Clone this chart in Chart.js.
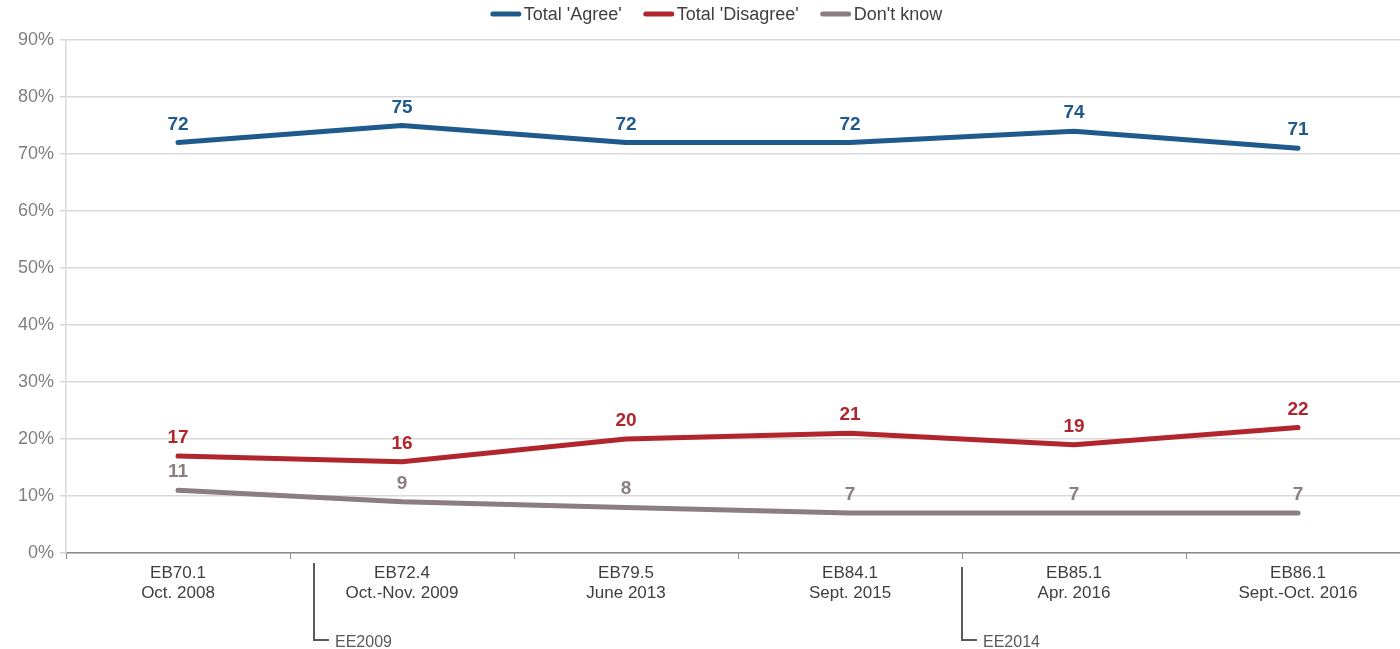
<!DOCTYPE html>
<html>
<head>
<meta charset="utf-8">
<script src="https://cdn.jsdelivr.net/npm/chart.js@4/dist/chart.umd.min.js"></script>
<style>
  html, body { margin: 0; padding: 0; background: #fff; overflow: hidden; }
  #wrap { width: 1410px; height: 649px; position: relative; }
</style>
</head>
<body>
<div id="wrap"><canvas id="chart"></canvas></div>
<script>
// ── data ───────────────────────────────────────────
const waves     = [['EB70.1', 'Oct. 2008'], ['EB72.4', 'Oct.-Nov. 2009'], ['EB79.5', 'June 2013'],
                   ['EB84.1', 'Sept. 2015'], ['EB85.1', 'Apr. 2016'], ['EB86.1', 'Sept.-Oct. 2016']];
const agree     = [72, 75, 72, 72, 74, 71];
const disagree  = [17, 16, 20, 21, 19, 22];
const dontKnow  = [11, 9, 8, 7, 7, 7];
const seriesNames = ["Total 'Agree'", "Total 'Disagree'", "Don't know"];
const seriesColors = ['#1f5a8c', '#b0262c', '#8b7d82'];
const labelColors  = ['#1f5a8c', '#b0262c', '#8b8080'];
const electionLabels = ['EE2009', 'EE2014'];
const electionPos    = [0.605, 3.5];   // position along the category axis

const FONT = '"Liberation Sans", Arial, sans-serif';

// ── plugins ────────────────────────────────────────
const valueLabels = {
  id: 'valueLabels',
  afterDatasetsDraw(chart) {
    const ctx = chart.ctx;
    ctx.save();
    ctx.font = 'bold 19px ' + FONT;
    ctx.textAlign = 'center';
    ctx.textBaseline = 'alphabetic';
    chart.data.datasets.forEach((ds, i) => {
      chart.getDatasetMeta(i).data.forEach((pt, j) => {
        ctx.fillStyle = labelColors[i];
        ctx.fillText(ds.data[j], pt.x, pt.y - 13);
      });
    });
    ctx.restore();
  }
};

// legend drawn by hand: round-capped line + text, centred on the window
const legendLine = {
  id: 'legendLine',
  afterDraw(chart) {
    const ctx = chart.ctx;
    ctx.save();
    ctx.font = '18px ' + FONT;
    ctx.textBaseline = 'middle';
    const lineW = 32, gap = 2, spacing = 21;
    const widths = seriesNames.map(n => lineW + gap + ctx.measureText(n).width);
    const total = widths.reduce((a, b) => a + b, 0) + spacing * (widths.length - 1);
    let x = 486 + (460 - total) / 2;
    const y = 14;
    seriesNames.forEach((n, i) => {
      ctx.strokeStyle = seriesColors[i];
      ctx.lineWidth = 5;
      ctx.lineCap = 'round';
      ctx.beginPath();
      ctx.moveTo(x + 3, y);
      ctx.lineTo(x + lineW - 3, y);
      ctx.stroke();
      ctx.fillStyle = '#404040';
      ctx.textAlign = 'left';
      ctx.fillText(n, x + lineW + gap, y + 1);
      x += widths[i] + spacing;
    });
    ctx.restore();
  }
};

const elections = {
  id: 'elections',
  afterDraw(chart) {
    const ctx = chart.ctx;
    const xs = chart.scales.x;
    ctx.save();
    ctx.strokeStyle = '#595959';
    ctx.lineWidth = 2;
    ctx.font = '16px ' + FONT;
    ctx.fillStyle = '#595959';
    ctx.textBaseline = 'alphabetic';
    electionLabels.forEach((lab, i) => {
      const x = Math.round(xs.getPixelForValue(electionPos[i]));
      const top = i === 0 ? 563 : 567;
      ctx.beginPath();
      ctx.moveTo(x, top);
      ctx.lineTo(x, 640);
      ctx.lineTo(x + 15, 640);
      ctx.stroke();
      ctx.fillText(lab, x + 21, 647);
    });
    ctx.restore();
  }
};

// ── chart ──────────────────────────────────────────
const mkSet = (i, data) => ({
  label: seriesNames[i],
  data: data,
  borderColor: seriesColors[i],
  backgroundColor: seriesColors[i],
  borderWidth: 5,
  pointRadius: 0,
  tension: 0,
  borderCapStyle: 'round',
  borderJoinStyle: 'round',
});

new Chart(document.getElementById('chart'), {
  type: 'line',
  data: {
    labels: waves,
    datasets: [mkSet(0, agree), mkSet(1, disagree), mkSet(2, dontKnow)],
  },
  options: {
    responsive: true,
    maintainAspectRatio: false,
    animation: false,
    layout: { padding: { top: 40, right: 0, left: 0, bottom: 0 } },
    plugins: {
      legend: { display: false },
      tooltip: { enabled: false },
    },
    scales: {
      x: {
        offset: true,
        grid: { display: true, drawOnChartArea: false, drawTicks: true, tickLength: 6, offset: true, color: '#8c8c8c' },
        border: { color: '#8c8c8c', width: 1.5 },
        ticks: { color: '#404040', font: { family: FONT, size: 17, lineHeight: 1.2 }, padding: 4, maxRotation: 0, autoSkip: false },
        afterFit(scale) { scale.height = 96; },
      },
      y: {
        min: 0,
        max: 90,
        grid: { color: '#d9d9d9', lineWidth: 1.5, tickLength: 6 },
        border: { color: '#d9d9d9', width: 1.5 },
        ticks: { stepSize: 10, color: '#7f7f7f', font: { family: FONT, size: 18 }, padding: 6,
                 callback: v => v + '%' },
        afterFit(scale) { scale.width = 66; },
      },
    },
  },
  plugins: [valueLabels, legendLine, elections],
});
</script>
</body>
</html>
